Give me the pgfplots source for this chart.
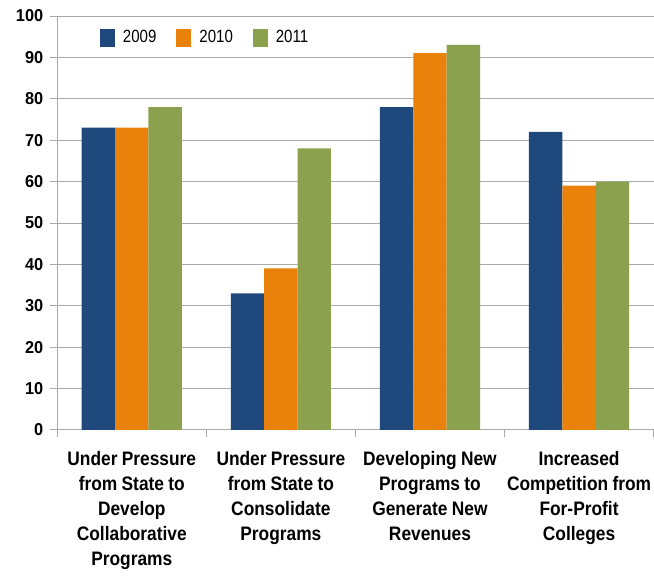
\documentclass[border=0pt]{standalone}
\usepackage{fontspec}
\usepackage{pgfplots}
\pgfplotsset{compat=1.18}
\newfontfamily\catfont[FakeStretch=0.89,WordSpace=0.9]{Liberation Sans}
\newfontfamily\tickfont[FakeStretch=0.95]{Liberation Sans}
\newfontfamily\legfont[FakeStretch=0.85]{Liberation Sans}
\definecolor{c2009}{RGB}{31,73,125}
\definecolor{c2010}{RGB}{233,129,10}
\definecolor{c2011}{RGB}{139,161,77}
\definecolor{gridgray}{RGB}{170,170,170}

\begin{document}
\begin{tikzpicture}
\begin{axis}[
    scale only axis,
    width=298.25pt, height=207pt,
    ybar=0pt,
    bar width=0.224,
    xmin=-0.5, xmax=3.5,
    ymin=0, ymax=100,
    ytick={0,10,...,100},
    xtick={-0.5,0.5,1.5,2.5,3.5},
    x tick label as interval,
    xticklabels={{Under Pressure\\from State to\\Develop\\Collaborative\\Programs},
                 {Under Pressure\\from State to\\Consolidate\\Programs},
                 {Developing New\\Programs to\\Generate New\\Revenues},
                 {Increased\\Competition from\\For-Profit\\Colleges}},
    x tick label style={font=\fontsize{9.75}{12.5}\selectfont\catfont\bfseries,
        align=center, inner xsep=0pt, yshift=-3.5pt},
    y tick label style={font=\fontsize{8.6}{10}\selectfont\tickfont\bfseries},
    /pgf/number format/assume math mode=true,
    axis x line*=bottom, axis y line*=left,
    axis line style={gridgray, -},
    tick style={gridgray, thin},
    tick align=outside,
    major tick length=3.5pt,
    ymajorgrids,
    grid style={gridgray, thin},
    clip=false,
    legend columns=3,
    legend style={draw=none, fill=none, at={(0.071,0.947)}, anchor=west,
        font=\fontsize{8.85}{10}\selectfont\legfont, inner sep=0pt,
        /tikz/every odd column/.append style={column sep=2pt},
        /tikz/every even column/.append style={column sep=8pt}},
    legend image code/.code={\fill[#1,draw=none] (0pt,-4.5pt) rectangle (7.5pt,4.5pt);},
]
\addplot[fill=c2009, draw=none] coordinates {(0,73) (1,33) (2,78) (3,72)};
\addplot[fill=c2010, draw=none] coordinates {(0,73) (1,39) (2,91) (3,59)};
\addplot[fill=c2011, draw=none] coordinates {(0,78) (1,68) (2,93) (3,60)};
\legend{2009,2010,2011}
\path (rel axis cs:-0.096,-0.331) (rel axis cs:1,1.0386);
\end{axis}
\end{tikzpicture}
\end{document}
